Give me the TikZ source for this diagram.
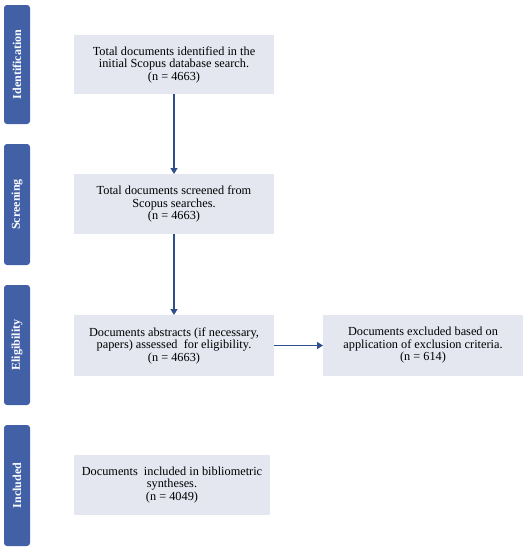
\documentclass[tikz,border=0pt]{standalone}
\usepackage{fontspec}
\setmainfont{Liberation Serif}
\usetikzlibrary{arrows.meta}
\definecolor{barblue}{HTML}{4260A6}
\definecolor{boxfill}{HTML}{E4E6F0}
\definecolor{arrowblue}{HTML}{2F4F8C}
\begin{document}
\begin{tikzpicture}[x=1pt,y=-1pt,
  phase/.style={fill=barblue,draw=none,rounded corners=3pt},
  phaselabel/.style={text=white,font=\fontsize{12}{13}\selectfont\bfseries,rotate=90},
  stepbox/.style={fill=boxfill,draw=none,align=center,font=\fontsize{12.3}{12.5}\selectfont},
  conn/.style={draw=arrowblue,line width=1.1pt,-{Triangle[length=6pt,width=7pt]}}]
\useasboundingbox (0,0) rectangle (523,550);
% phase bars
\fill[phase] (4,5) rectangle (30,124);
\fill[phase] (4,144) rectangle (30,265);
\fill[phase] (4,285) rectangle (30,405);
\fill[phase] (4,425) rectangle (30,546);
\node[phaselabel] (pid) at (17,64.5) {Identification};
\node[phaselabel] (psc) at (17,204.5) {Screening};
\node[phaselabel] (pel) at (17,345) {Eligibility};
\node[phaselabel] (pin) at (17,485.5) {Included};
% boxes
\fill[boxfill] (74,35) rectangle (274,94);
\node[stepbox] (b1) at (174,64.5) {Total documents identified in the\\initial Scopus database search.\\(n = 4663)};
\coordinate (b1s) at (174,94);
\fill[boxfill] (74,174) rectangle (274,234);
\node[stepbox] (b2) at (174,204) {Total documents screened from\\Scopus searches.\\(n = 4663)};
\coordinate (b2n) at (174,174);
\coordinate (b2s) at (174,234);
\fill[boxfill] (74,315) rectangle (274,376);
\node[stepbox] (b3) at (174,345.5) {Documents abstracts (if necessary,\\papers) assessed\ \ for eligibility.\\(n = 4663)};
\coordinate (b3n) at (174,315);
\coordinate (b3e) at (274,345.5);
\fill[boxfill] (323,315) rectangle (523,376);
\node[stepbox] (b4) at (423,345.5) {Documents excluded based on\\application of exclusion criteria.\\(n = 614)};
\coordinate (b4w) at (323,345.5);
\fill[boxfill] (74,455) rectangle (270,515);
\node[stepbox] (b5) at (172,485) {Documents\ \ included in bibliometric\\syntheses.\\(n = 4049)};
% connectors
\draw[conn] (b1s) -- (b2n);
\draw[conn] (b2s) -- (b3n);
\draw[conn] (b3e) -- (b4w);
\end{tikzpicture}
\end{document}
